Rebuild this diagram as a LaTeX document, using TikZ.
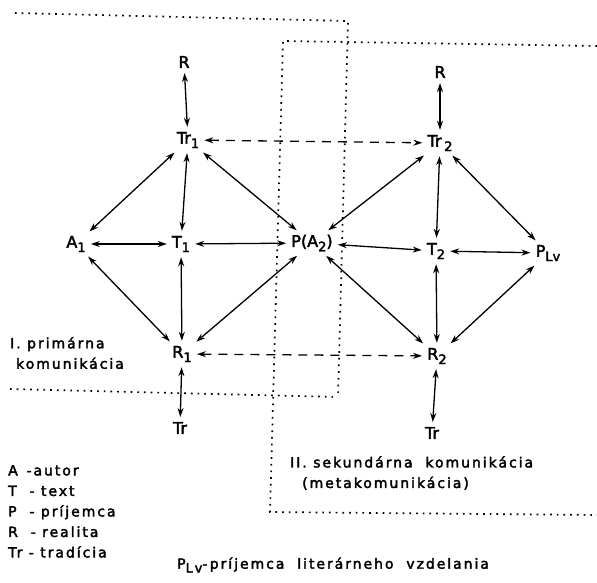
\documentclass[tikz,border=0pt]{standalone}
\usepackage{fontspec}
\setmainfont{DejaVu Sans}[FakeBold=2.5]
\usetikzlibrary{arrows.meta}
\newcommand\sbs[1]{\raisebox{-0.5ex}{\fontsize{13}{13}\selectfont #1}}
\begin{document}
\begin{tikzpicture}[x=1pt,y=-1pt,
  lbl/.style={inner sep=3pt, font=\fontsize{16}{16}\selectfont},
  txt/.style={inner sep=0pt, font=\fontsize{14}{20.5}\selectfont\addfontfeature{LetterSpace=14}, align=left},
  arr/.style={{Stealth[length=9pt,width=6pt]}-{Stealth[length=9pt,width=6pt]}, line width=1.3pt, shorten >=2pt, shorten <=2pt},
  darr/.style={arr, dash pattern=on 9pt off 7pt},
  dotbox/.style={line width=1.7pt, dash pattern=on 1.7pt off 5pt, line cap=butt}]
\useasboundingbox (0,0) rectangle (597,582);
% dotted frames
\draw[dotbox] (15,13) -- (348,21) -- (338,397);
\draw[dotbox] (10,389) -- (338,397);
\draw[dotbox] (597,46) -- (283,41) -- (270,512) -- (597,515);
% left diamond
\node[lbl] (Ra) at (184,62) {R};
\node[lbl] (Tr1) at (188,140) {Tr\sbs{1}};
\node[lbl] (A1) at (76,244) {A\sbs{1}};
\node[lbl] (T1) at (181,244) {T\sbs{1}};
\node[lbl] (PA2) at (312,243) {P(A\sbs{2})};
\node[lbl] (R1) at (182,354) {R\sbs{1}};
\node[lbl] (Tra) at (180,428) {Tr};
% right diamond
\node[lbl] (Rb) at (440,72) {R};
\node[lbl] (Tr2) at (440,143) {Tr\,\sbs{2}};
\node[lbl] (T2) at (436,251) {T\sbs{2}};
\node[lbl] (PLv) at (548,253) {P\sbs{Lv}};
\node[lbl] (R2) at (437,356) {R\sbs{2}};
\node[lbl] (Trb) at (432,433) {Tr};
% arrows left
\draw[arr] (Ra) -- (Tr1);
\draw[arr] (Tr1) -- (A1);
\draw[arr] (Tr1) -- (T1);
\draw[arr] (Tr1) -- (PA2);
\draw[arr] (A1) -- (T1);
\draw[arr] (T1) -- (PA2);
\draw[arr] (A1) -- (R1);
\draw[arr] (T1) -- (R1);
\draw[arr] (PA2) -- (R1);
\draw[arr] (R1) -- (Tra);
% arrows right
\draw[arr] (Rb) -- (Tr2);
\draw[arr] (Tr2) -- (PA2);
\draw[arr] (Tr2) -- (T2);
\draw[arr] (Tr2) -- (PLv);
\draw[arr] (PA2) -- (T2);
\draw[arr] (T2) -- (PLv);
\draw[arr] (PA2) -- (R2);
\draw[arr] (T2) -- (R2);
\draw[arr] (PLv) -- (R2);
\draw[arr] (R2) -- (Trb);
% dashed links
\draw[darr] (Tr1) -- (Tr2);
\draw[darr] (R1) -- (R2);
% texts
\node[txt, anchor=west] (prim) at (10,353) {I. primárna\\\hspace{6pt}komunikácia};
\node[txt, anchor=west] (sek) at (290,473) {II. sekundárna\ \ komunikácia\\\hspace{12pt}(metakomunikácia)};
\node[txt, anchor=north west] (leg) at (8,465) {A \,-autor\\T \ - text\\P \ - príjemca\\R \ - realita\\Tr - tradícia};
\node[txt, anchor=west] (plv) at (177,565) {P\sbs{Lv}-\,príjemca\ \ literárneho\ \ vzdelania};
\end{tikzpicture}
\end{document}
